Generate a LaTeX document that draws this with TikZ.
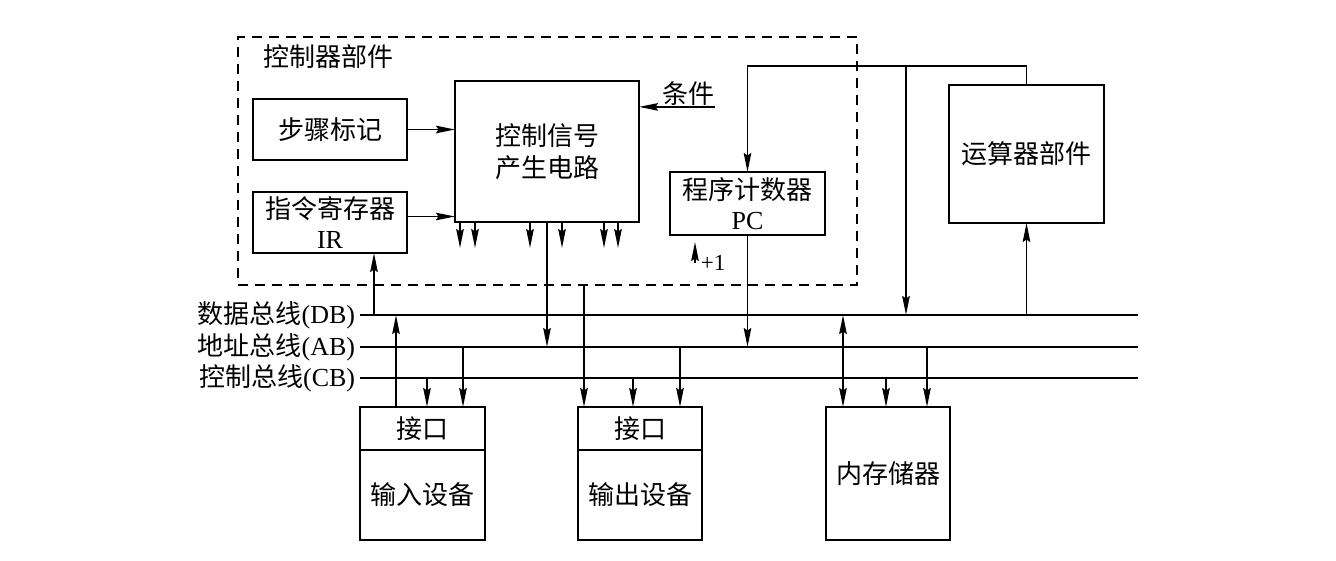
\documentclass[tikz,border=0pt]{standalone}
\usepackage{fontspec}
\setmainfont{Liberation Serif}
\newfontfamily\cjk{Noto Sans CJK SC}
\usetikzlibrary{arrows.meta, positioning, calc}

\begin{document}
\begin{tikzpicture}[
  x=1pt, y=-1pt,
  font=\fontsize{26}{30}\selectfont,
  line width=1.8pt,
  block/.style={
    rectangle, draw=black, line width=1.8pt,
    inner sep=0pt, outer sep=0pt, align=center
  },
  arrow/.style={-{Stealth[length=19pt, width=7.5pt, inset=2.5pt]}, line width=1.8pt},
  dblarrow/.style={{Stealth[length=19pt, width=7.5pt, inset=2.5pt]}-{Stealth[length=19pt, width=7.5pt, inset=2.5pt]}, line width=1.8pt},
  groupbox/.style={draw=black, dash pattern=on 10pt off 7pt, line width=1.6pt, inner sep=0pt, outer sep=0pt},
  buslabel/.style={anchor=east, inner sep=4pt}
]
\useasboundingbox (0,0) rectangle (1336,560);

% control unit
\node[groupbox, minimum width=619pt, minimum height=248pt] (ctrl) at (547.5,161) {};
\node[anchor=west, inner sep=0pt] (ctrltitle) at ([xshift=25pt,yshift=-20pt]ctrl.north west) {\cjk 控制器部件};
\node[block, minimum width=154pt, minimum height=61pt] (step) at (330,129.5) {\cjk 步骤标记};
\node[block, minimum width=154pt, minimum height=61pt, below=32pt of step] (ir) {{\cjk 指令寄存器}\\IR};
\node[block, minimum width=184pt, minimum height=141pt, font=\fontsize{26}{32}\selectfont\cjk] (gen) at (547,151.5) {控制信号\\产生电路};
\node[block, minimum width=155pt, minimum height=63pt] (pc) at (747.5,203.5) {{\cjk 程序计数器}\\PC};
\node[block, minimum width=155pt, minimum height=138pt] (alu) at (1026.5,154) {\cjk 运算器部件};
\node[inner sep=0pt] (cond) at (688,94) {\cjk 条件};

% buses
\coordinate (dbL) at (360,315); \coordinate (dbR) at (1138,315);
\coordinate (abL) at (360,347); \coordinate (abR) at (1138,347);
\coordinate (cbL) at (360,378); \coordinate (cbR) at (1138,378);
\node[buslabel] (dblbl) at (dbL) {{\cjk 数据总线}(DB)};
\node[buslabel] (ablbl) at (abL) {{\cjk 地址总线}(AB)};
\node[buslabel] (cblbl) at (cbL) {{\cjk 控制总线}(CB)};

% devices
\node[block, minimum width=125pt, minimum height=43pt] (inif) at (422.5,428.5) {\cjk 接口};
\node[block, minimum width=125pt, minimum height=90pt, below=0pt of inif] (indev) {\cjk 输入设备};
\node[block, minimum width=124pt, minimum height=43pt, right=93pt of inif] (outif) {\cjk 接口};
\node[block, minimum width=124pt, minimum height=90pt, below=0pt of outif] (outdev) {\cjk 输出设备};
\node[block, minimum width=124pt, minimum height=133pt, right=124pt of outif.north east, anchor=north west] (mem) {\cjk 内存储器};

\draw (dbL) -- (dbR);
\draw (abL) -- (abR);
\draw (cbL) -- (cbR);

\draw[arrow] (step) -- (step -| gen.west);
\draw[arrow] ([yshift=6pt]ir.east) -- ([yshift=6pt]ir.east -| gen.west);
\draw[arrow] (cond.south east) -- (cond.south east -| gen.east);
\draw[arrow] ([xshift=-87pt]gen.south) -- ++(0,26);
\draw[arrow] ([xshift=-72pt]gen.south) -- ++(0,26);
\draw[arrow] ([xshift=-17pt]gen.south) -- ++(0,26);
\draw[arrow] ([xshift=15pt]gen.south) -- ++(0,26);
\draw[arrow] ([xshift=57pt]gen.south) -- ++(0,26);
\draw[arrow] ([xshift=71pt]gen.south) -- ++(0,26);
\draw[arrow] (gen.south) -- (gen.south |- abL);
\draw[arrow] ([xshift=6pt]outif.north west |- ctrl.south) -- ([xshift=6pt]outif.north west);
\draw[arrow] ([xshift=-33pt]ir.south east |- dbL) -- ([xshift=-33pt]ir.south east);

\coordinate (fb) at ([yshift=19pt]alu.north);
\draw[arrow] (alu.north) -- (fb) -| (pc.north);
\draw[arrow] ([xshift=-43pt]alu.west |- fb) -- ([xshift=-43pt]alu.west |- dbL);
\draw[arrow] (alu.south |- dbL) -- (alu.south);
\draw[arrow] (pc.south) -- (pc.south |- abL);
\coordinate (inc) at ([xshift=25pt,yshift=-28pt]pc.south west);
\draw[arrow] (inc) -- ([yshift=-7pt]inc |- pc.south);
\node[right=5pt of inc, inner sep=0pt, font=\fontsize{23}{26}\selectfont] (plus) {+1};

\draw[arrow] ([xshift=36pt]inif.north west) -- ([xshift=36pt]inif.north west |- dbL);
\draw[arrow] ([xshift=67pt]inif.north west |- cbL) -- ([xshift=67pt]inif.north west);
\draw[arrow] ([xshift=103pt]inif.north west |- abL) -- ([xshift=103pt]inif.north west);
\draw[arrow] ([xshift=55pt]outif.north west |- cbL) -- ([xshift=55pt]outif.north west);
\draw[arrow] ([xshift=102pt]outif.north west |- abL) -- ([xshift=102pt]outif.north west);
\draw[dblarrow] ([xshift=17pt]mem.north west |- dbL) -- ([xshift=17pt]mem.north west);
\draw[arrow] ([xshift=60pt]mem.north west |- cbL) -- ([xshift=60pt]mem.north west);
\draw[arrow] ([xshift=101pt]mem.north west |- abL) -- ([xshift=101pt]mem.north west);
\end{tikzpicture}
\end{document}
